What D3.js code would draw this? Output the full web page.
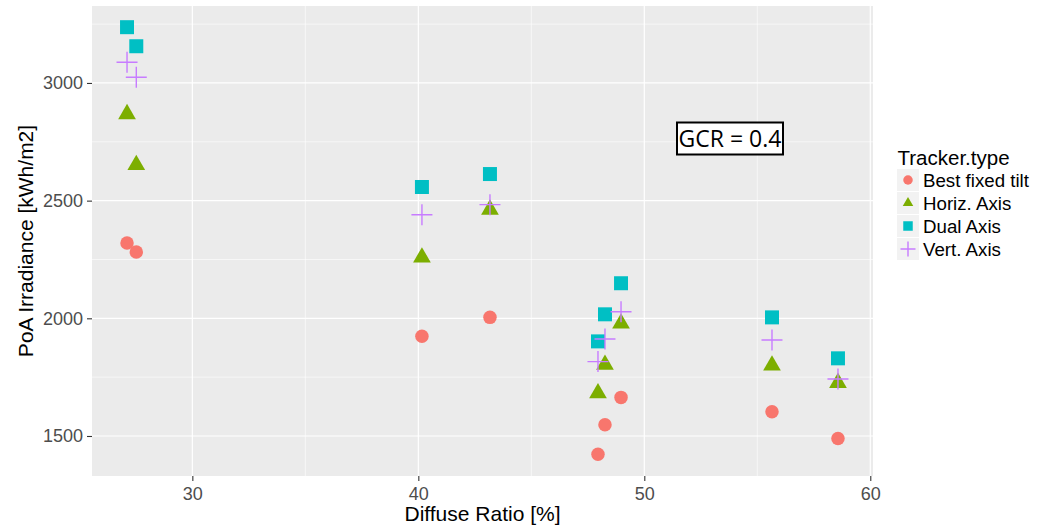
<!DOCTYPE html>
<html>
<head>
<meta charset="utf-8">
<script src="https://cdn.jsdelivr.net/npm/d3@7"></script>
<style>
  html, body { margin: 0; padding: 0; background: #fff; }
  svg { display: block; font-family: "Liberation Sans", Arial, sans-serif; }
</style>
</head>
<body>
<svg id="chart" width="1045" height="528"></svg>
<script>
// Diffuse ratio of each site [%]
const diffuseRatio = [27.11, 27.52, 40.16, 43.17, 47.95, 48.26, 48.97, 55.65, 58.57];
// Plane-of-array irradiance per tracker type [kWh/m2]
const bestFixedTilt = [2320, 2282, 1924, 2004, 1422, 1548, 1664, 1603, 1489];
const horizAxis     = [2868, 2652, 2259, 2462, 1682, 1803, 1978, 1800, 1726];
const dualAxis      = [3237, 3156, 2558, 2613, 1902, 2017, 2149, 2004, 1830];
const vertAxis      = [3088, 3024, 2440, 2483, 1816, 1912, 2028, 1908, 1742];

const trackerTypes = ["Best fixed tilt", "Horiz. Axis", "Dual Axis", "Vert. Axis"];
const xTicks = [30, 40, 50, 60];
const yTicks = [1500, 2000, 2500, 3000];
const xMinor = [25, 35, 45, 55];
const yMinor = [1250, 1750, 2250, 2750, 3250];
const annotation = "GCR = 0.4";

const colors = ["#F8766D", "#7CAE00", "#00BFC4", "#C77CFF"];
const seriesValues = [bestFixedTilt, horizAxis, dualAxis, vertAxis];

const svg = d3.select("#chart");
const panel = { left: 92, right: 873, top: 6, bottom: 476 };

const x = d3.scaleLinear().domain([25.56, 60.12]).range([panel.left, panel.right]);
const y = d3.scaleLinear().domain([1330, 3327]).range([panel.bottom, panel.top]);

// panel background
svg.append("rect")
  .attr("x", panel.left).attr("y", panel.top)
  .attr("width", panel.right - panel.left).attr("height", panel.bottom - panel.top)
  .attr("fill", "#EBEBEB");

const grid = svg.append("g");
// minor grid
grid.selectAll(".xm").data(xMinor.filter(v => x(v) > panel.left && x(v) < panel.right)).join("line")
  .attr("x1", d => x(d)).attr("x2", d => x(d)).attr("y1", panel.top).attr("y2", panel.bottom)
  .attr("stroke", "#fff").attr("stroke-width", 0.6);
grid.selectAll(".ym").data(yMinor.filter(v => y(v) > panel.top && y(v) < panel.bottom)).join("line")
  .attr("y1", d => y(d)).attr("y2", d => y(d)).attr("x1", panel.left).attr("x2", panel.right)
  .attr("stroke", "#fff").attr("stroke-width", 0.6);
// major grid
grid.selectAll(".xM").data(xTicks).join("line")
  .attr("x1", d => x(d)).attr("x2", d => x(d)).attr("y1", panel.top).attr("y2", panel.bottom)
  .attr("stroke", "#fff").attr("stroke-width", 1.2);
grid.selectAll(".yM").data(yTicks).join("line")
  .attr("y1", d => y(d)).attr("y2", d => y(d)).attr("x1", panel.left).attr("x2", panel.right)
  .attr("stroke", "#fff").attr("stroke-width", 1.2);

// axes
const xAxis = svg.append("g").attr("transform", `translate(0,${panel.bottom})`)
  .call(d3.axisBottom(x).tickValues(xTicks).tickSize(5).tickPadding(6).tickFormat(d3.format("d")));
const yAxis = svg.append("g").attr("transform", `translate(${panel.left},0)`)
  .call(d3.axisLeft(y).tickValues(yTicks).tickSize(5).tickPadding(4).tickFormat(d3.format("d")));
[xAxis, yAxis].forEach(a => {
  a.select(".domain").remove();
  a.selectAll(".tick line").attr("stroke", "#333").attr("stroke-width", 1.1);
  a.selectAll(".tick text").attr("fill", "#4D4D4D").attr("font-size", 18)
    .attr("font-family", "'Liberation Sans', Arial, sans-serif");
});

// marker shapes
const shapeFns = [
  s => d3.symbol(d3.symbolCircle, s * s * Math.PI / 4)(),
  s => d3.symbol(d3.symbolTriangle, Math.pow(s / (2 * Math.sqrt(3)), 2) * 3 * Math.sqrt(3))(),
  s => d3.symbol(d3.symbolSquare, s * s)(),
  s => `M${-s / 2},0H${s / 2}M0,${-s / 2}V${s / 2}`
];
const plotSizes = [13.5, 17.7, 14, 21];
const keySizes = [9.5, 10.5, 9.5, 15];

function drawMark(g, i, size) {
  const p = g.append("path").attr("d", shapeFns[i](size));
  if (i === 3) p.attr("fill", "none").attr("stroke", colors[i]).attr("stroke-width", 1.4);
  else p.attr("fill", colors[i]);
  return p;
}

const marks = svg.append("g");
seriesValues.forEach((vals, i) => {
  vals.forEach((v, j) => {
    const g = marks.append("g").attr("transform", `translate(${x(diffuseRatio[j])},${y(v)})`);
    drawMark(g, i, plotSizes[i]);
  });
});

// annotation box
const ann = svg.append("g");
ann.append("rect")
  .attr("x", 677).attr("y", 122.5).attr("width", 106).attr("height", 32)
  .attr("fill", "#fff").attr("stroke", "#000").attr("stroke-width", 2);
ann.append("text")
  .attr("x", 730).attr("y", 147)
  .attr("text-anchor", "middle")
  .attr("font-family", "'Open Sans', 'Noto Sans', sans-serif")
  .attr("font-size", 23)
  .attr("fill", "#000")
  .text(annotation);

// axis titles
svg.append("text")
  .attr("x", (panel.left + panel.right) / 2).attr("y", 521)
  .attr("text-anchor", "middle").attr("font-size", 21).attr("fill", "#000")
  .text("Diffuse Ratio [%]");
svg.append("text")
  .attr("transform", `translate(33,${(panel.top + panel.bottom) / 2}) rotate(-90)`)
  .attr("text-anchor", "middle").attr("font-size", 21).attr("fill", "#000")
  .text("PoA Irradiance [kWh/m2]");

// legend
const legend = svg.append("g").attr("transform", "translate(896,0)");
legend.append("text").attr("x", 1.5).attr("y", 165)
  .attr("font-size", 20.5).attr("fill", "#000").text("Tracker.type");
const keyY = [180, 203, 226, 249];
trackerTypes.forEach((name, i) => {
  const row = legend.append("g").attr("transform", `translate(0,${keyY[i]})`);
  row.append("rect").attr("x", 0.5).attr("y", -11.5).attr("width", 23).attr("height", 23)
    .attr("fill", "#F2F2F2").attr("stroke", "#fff").attr("stroke-width", 1);
  const k = row.append("g").attr("transform", "translate(12,0)");
  drawMark(k, i, keySizes[i]);
  row.append("text").attr("x", 27).attr("y", 6.5)
    .attr("font-size", 18.7).attr("fill", "#000").text(name);
});
</script>
</body>
</html>
